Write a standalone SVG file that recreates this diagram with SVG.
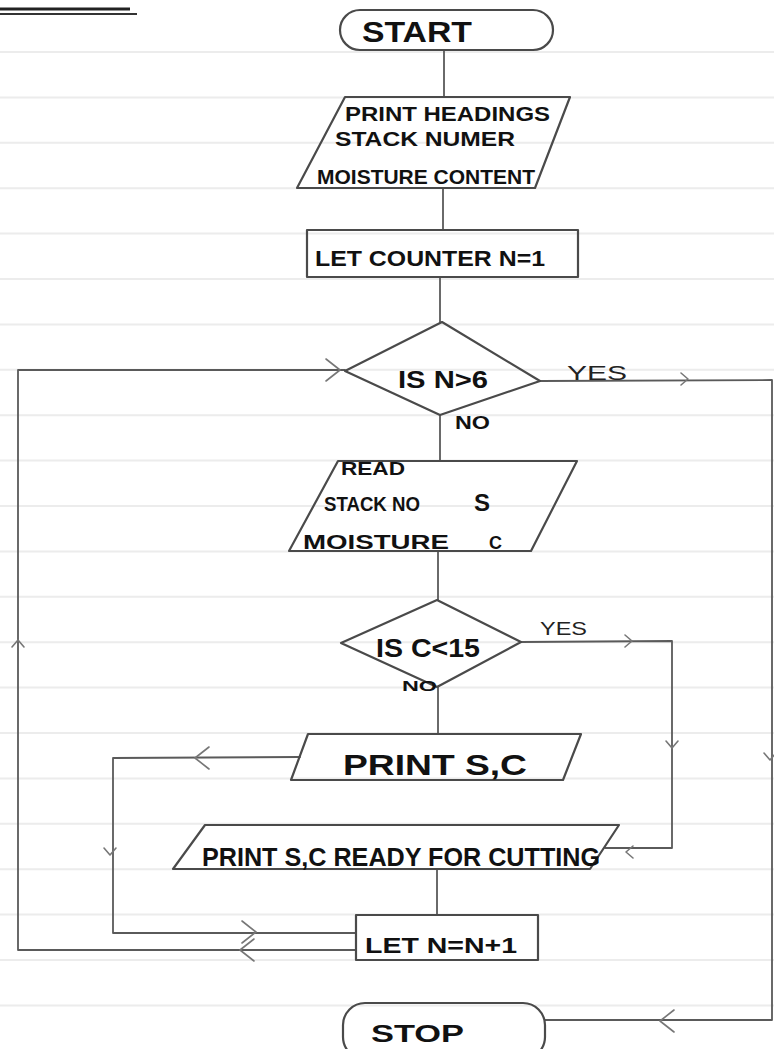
<svg xmlns="http://www.w3.org/2000/svg" xmlns:xlink="http://www.w3.org/1999/xlink" width="774" height="1049" viewBox="0 0 774 1049">
  <defs>
    <style>
      .paper { stroke: #ececec; stroke-width: 2; fill: none; }
      .shape { fill: none; stroke: #4a4a4a; stroke-width: 2.2; stroke-linejoin: round; }
      .conn { fill: none; stroke: #5a5a5a; stroke-width: 1.8; stroke-linecap: round; stroke-linejoin: round; }
      .chev { fill: none; stroke: #777; stroke-width: 1.6; stroke-linecap: round; stroke-linejoin: round; }
      .t { font-family: "Liberation Sans", Arial, sans-serif; fill: #111; font-weight: bold; }
      .lbl { font-family: "Liberation Sans", Arial, sans-serif; fill: #222; }
    </style>
    <path id="chevL" class="chev" d="M -14 -11 L 0 0 L -14 11"/>
    <path id="chevS" class="chev" d="M -7 -6 L 0 0 L -7 6"/>
  </defs>

  <rect x="0" y="0" width="774" height="1049" fill="#ffffff"/>

  <g id="paper-lines">
    <path class="paper" d="M0 52.0H774M0 97.4H774M0 142.8H774M0 188.2H774M0 233.6H774M0 279.0H774M0 324.4H774M0 369.8H774M0 415.2H774M0 460.6H774M0 506.0H774M0 551.4H774M0 596.8H774M0 642.2H774M0 687.6H774M0 733.0H774M0 778.4H774M0 823.8H774M0 869.2H774M0 914.6H774M0 960.0H774M0 1005.4H774"/>
  </g>

  <g id="heading-underline">
    <path d="M0 9 H130" stroke="#222" stroke-width="3" fill="none"/>
    <path d="M0 14 H137" stroke="#333" stroke-width="2" fill="none"/>
  </g>

  <g id="connectors">
    <path class="conn" d="M444 50 V97"/>
    <path class="conn" d="M443 188 V230"/>
    <path class="conn" d="M440 277 V322"/>
    <path class="conn" d="M440 415 V461"/>
    <path class="conn" d="M438 551 V600"/>
    <path class="conn" d="M438 687 V734"/>
    <path class="conn" d="M437 869 V915"/>
    <!-- IS N>6 yes -> stop -->
    <path class="conn" d="M540 381 L772 380 V1020 H545"/>
    <use href="#chevS" transform="translate(688,379)"/>
    <use href="#chevS" transform="translate(770,760) rotate(90)"/>
    <use href="#chevL" transform="translate(660,1021) rotate(180)"/>
    <!-- loop back from LET N=N+1 to IS N>6 -->
    <path class="conn" d="M356 950 H18 V370 H345"/>
    <use href="#chevL" transform="translate(240,950) rotate(180)"/>
    <use href="#chevS" transform="translate(18,640) rotate(-90)"/>
    <use href="#chevL" transform="translate(340,370)"/>
    <!-- PRINT S,C -> LET N=N+1 -->
    <path class="conn" d="M300 757 L113 758 V933 H356"/>
    <use href="#chevL" transform="translate(195,758) rotate(180)"/>
    <use href="#chevS" transform="translate(110,855) rotate(90)"/>
    <use href="#chevL" transform="translate(256,932)"/>
    <!-- IS C<15 yes -> READY FOR CUTTING -->
    <path class="conn" d="M521 642 L672 641 V848 H605"/>
    <use href="#chevS" transform="translate(632,641)"/>
    <use href="#chevS" transform="translate(672,748) rotate(90)"/>
    <use href="#chevS" transform="translate(626,852) rotate(180)"/>
  </g>

  <g id="start">
    <rect class="shape" x="340" y="10" width="213" height="40" rx="20"/>
    <text class="t" x="362" y="42" font-size="29" textLength="110" lengthAdjust="spacingAndGlyphs">START</text>
  </g>

  <g id="print-headings">
    <polygon class="shape" points="345,97 570,97 535,188 297,188"/>
    <text class="t" x="345" y="121" font-size="20" textLength="205" lengthAdjust="spacingAndGlyphs">PRINT HEADINGS</text>
    <text class="t" x="335" y="146" font-size="20" textLength="180" lengthAdjust="spacingAndGlyphs">STACK NUMER</text>
    <text class="t" x="317" y="184" font-size="20" textLength="218" lengthAdjust="spacingAndGlyphs">MOISTURE CONTENT</text>
  </g>

  <g id="let-counter">
    <rect class="shape" x="307" y="230" width="271" height="47"/>
    <text class="t" x="315" y="266" font-size="22" textLength="230" lengthAdjust="spacingAndGlyphs">LET COUNTER N=1</text>
  </g>

  <g id="is-n-gt-6">
    <polygon class="shape" points="442,322 540,381 440,415 345,371"/>
    <text class="t" x="398" y="388" font-size="24" textLength="90" lengthAdjust="spacingAndGlyphs">IS N&gt;6</text>
    <text class="lbl" x="567" y="380" font-size="20" textLength="60" lengthAdjust="spacingAndGlyphs">YES</text>
    <text class="t" x="455" y="429" font-size="18" textLength="35" lengthAdjust="spacingAndGlyphs">NO</text>
  </g>

  <g id="read">
    <polygon class="shape" points="338,461 577,461 531,551 289,551"/>
    <text class="t" x="341" y="475" font-size="18" textLength="64" lengthAdjust="spacingAndGlyphs">READ</text>
    <text class="t" x="324" y="511" font-size="20" textLength="96" lengthAdjust="spacingAndGlyphs">STACK NO</text>
    <text class="t" x="474" y="511" font-size="24">S</text>
    <text class="t" x="303" y="549" font-size="20" textLength="146" lengthAdjust="spacingAndGlyphs">MOISTURE</text>
    <text class="t" x="489" y="549" font-size="18">C</text>
  </g>

  <g id="is-c-lt-15">
    <polygon class="shape" points="437,600 521,642 437,687 341,643"/>
    <text class="t" x="376" y="657" font-size="26" textLength="104" lengthAdjust="spacingAndGlyphs">IS C&lt;15</text>
    <text class="lbl" x="540" y="635" font-size="18" textLength="47" lengthAdjust="spacingAndGlyphs">YES</text>
    <text class="t" x="402" y="691" font-size="15" textLength="35" lengthAdjust="spacingAndGlyphs">NO</text>
  </g>

  <g id="print-s-c">
    <polygon class="shape" points="308,734 581,734 563,780 291,780"/>
    <text class="t" x="343" y="775" font-size="30" textLength="184" lengthAdjust="spacingAndGlyphs">PRINT S,C</text>
  </g>

  <g id="print-ready">
    <polygon class="shape" points="205,825 619,825 590,869 173,869"/>
    <text class="t" x="202" y="866" font-size="25" textLength="398" lengthAdjust="spacingAndGlyphs">PRINT S,C  READY FOR CUTTING</text>
  </g>

  <g id="let-n-inc">
    <rect class="shape" x="356" y="915" width="182" height="45"/>
    <text class="t" x="365" y="953" font-size="22" textLength="152" lengthAdjust="spacingAndGlyphs">LET N=N+1</text>
  </g>

  <g id="stop">
    <rect class="shape" x="343" y="1003" width="202" height="56" rx="22"/>
    <text class="t" x="371" y="1042" font-size="24" textLength="93" lengthAdjust="spacingAndGlyphs">STOP</text>
  </g>
</svg>
